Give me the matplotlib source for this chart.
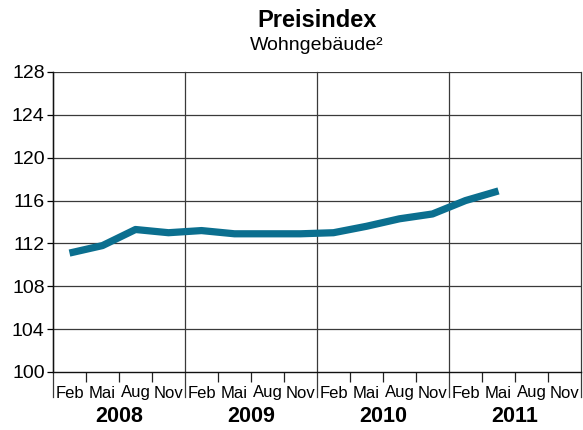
import numpy as np
import matplotlib
matplotlib.use("Agg")
import matplotlib.pyplot as plt
import matplotlib.transforms as mtransforms

plt.rcParams['font.family'] = ['Liberation Sans', 'DejaVu Sans']

years = ['2008', '2009', '2010', '2011']
months = ['Feb', 'Mai', 'Aug', 'Nov']
# Preisindex Wohngebäude, quarterly (Feb 2008 .. Mai 2011)
values = [111.1, 111.8, 113.3, 113.0, 113.2, 112.9, 112.9, 112.9,
          113.0, 113.6, 114.3, 114.75, 116.0, 116.9]
yticks = [100, 104, 108, 112, 116, 120, 124, 128]

line_color = '#0b6f8f'
grid_color = '#3a3a3a'

W, H = 583, 430
fig = plt.figure(figsize=(W / 100, H / 100), dpi=100)
ax = fig.add_axes([53/W, 1 - 372/H, 528/W, 300/H])

nq = len(years) * len(months)
x = np.arange(len(values)) + 0.5
ax.plot(x, values, color=line_color, lw=5.2, solid_capstyle='butt', zorder=3)

ax.set_xlim(0, nq)
ax.set_ylim(100, 128)

# horizontal grid
for v in yticks[1:]:
    ax.axhline(v, color=grid_color, lw=0.9, zorder=1)
ax.set_yticks(yticks)
ax.tick_params(axis='y', length=4, width=0.9, labelsize=14, pad=2)

# year separators extending below axis
for i in range(len(years) + 1):
    ax.axvline(i * len(months), ymin=-0.083, ymax=1, color=grid_color,
               lw=0.9, clip_on=False, zorder=1)

# quarter ticks
minor = [q for q in range(1, nq) if q % len(months) != 0]
ax.set_xticks(minor)
ax.set_xticklabels([])
ax.tick_params(axis='x', length=7, width=0.9, direction='out', color='#222222')

for s in ['top', 'right']:
    ax.spines[s].set_visible(False)
for s in ['left', 'bottom']:
    ax.spines[s].set_linewidth(1.0)
    ax.spines[s].set_color('#111111')

trans = mtransforms.blended_transform_factory(ax.transData, fig.transFigure)
for yi, yr in enumerate(years):
    for mi, m in enumerate(months):
        ax.text(yi * len(months) + mi + 0.5, 1 - 397.5/H, m, transform=trans,
                ha='center', va='baseline', fontsize=12)
    ax.text(yi * len(months) + 2, 1 - 421.5/H, yr, transform=trans,
            ha='center', va='baseline', fontsize=15.5, fontweight='bold')

fig.text(317/W, 1 - 27/H, 'Preisindex', ha='center', va='baseline',
         fontsize=17, fontweight='bold')
fig.text(317/W, 1 - 50/H, 'Wohngebäude²', ha='center', va='baseline',
         fontsize=14)

fig.savefig('out.png', dpi=100)
